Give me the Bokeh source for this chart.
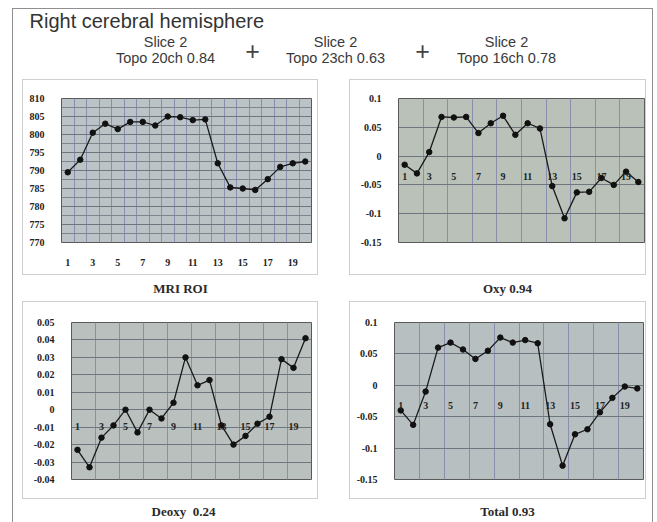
from bokeh.plotting import figure
from bokeh.models import Range1d, FixedTicker, Label
from bokeh.layouts import column, row
from bokeh.embed import file_html
from bokeh.resources import INLINE

# ---------------- data ----------------
x_index = list(range(1, 21))
x_tick_values = [1, 3, 5, 7, 9, 11, 13, 15, 17, 19]

mri_values = [789.5, 793.0, 800.5, 803.0, 801.5, 803.5, 803.5, 802.5, 805.0, 804.8,
              804.0, 804.2, 792.0, 785.3, 785.0, 784.6, 787.6, 791.0, 792.0, 792.5]
oxy_values = [-0.015, -0.030, 0.007, 0.068, 0.067, 0.068, 0.040, 0.057, 0.070, 0.037,
              0.057, 0.048, -0.052, -0.108, -0.063, -0.062, -0.038, -0.050, -0.027, -0.045]
deoxy_values = [-0.023, -0.033, -0.016, -0.009, 0.000, -0.013, 0.000, -0.005, 0.004, 0.030,
                0.014, 0.017, -0.009, -0.020, -0.015, -0.008, -0.004, 0.029, 0.024, 0.041]
total_values = [-0.040, -0.063, -0.010, 0.060, 0.068, 0.057, 0.042, 0.055, 0.076, 0.068,
                0.072, 0.067, -0.062, -0.128, -0.078, -0.070, -0.043, -0.020, -0.002, -0.005]

mri_y_ticks = [770, 775, 780, 785, 790, 795, 800, 805, 810]
mri_y_labels = ["770", "775", "780", "785", "790", "795", "800", "805", "810"]
oxy_y_ticks = [-0.15, -0.1, -0.05, 0, 0.05, 0.1]
oxy_y_labels = ["-0.15", "-0.1", "-0.05", "0", "0.05", "0.1"]
deoxy_y_ticks = [-0.04, -0.03, -0.02, -0.01, 0, 0.01, 0.02, 0.03, 0.04, 0.05]
deoxy_y_labels = ["-0.04", "-0.03", "-0.02", "-0.01", "0", "0.01", "0.02", "0.03", "0.04", "0.05"]
total_y_ticks = [-0.15, -0.1, -0.05, 0, 0.05, 0.1]
total_y_labels = ["-0.15", "-0.1", "-0.05", "0", "0.05", "0.1"]

captions = ["MRI ROI", "Oxy 0.94", "Deoxy\u00a0\u00a00.24", "Total 0.93"]
header_title = "Right cerebral hemisphere"
slice_labels = ["Slice 2", "Slice 2", "Slice 2"]
topo_labels = ["Topo 20ch 0.84", "Topo 23ch 0.63", "Topo 16ch 0.78"]

# ---------------- styling ----------------
TICK_FONT = "Liberation Serif"
LINE_COLOR = "#1a1a1a"


def make_panel(values, yr, yticks, ylabels, minor, grid_step, w, h, borders, bg, fixed_x, standoff):
    l, r, t, b = borders
    p = figure(width=w, height=h, x_range=Range1d(0.5, 20.5), y_range=Range1d(*yr),
               output_backend="svg", toolbar_location=None,
               min_border_left=l, min_border_right=r, min_border_top=t, min_border_bottom=b,
               background_fill_color=bg, border_fill_color="white",
               outline_line_color="#5a5a5a", outline_line_width=1)
    p.line(x_index, values, line_color=LINE_COLOR, line_width=1.3)
    p.scatter(x_index, values, size=5.5, color="#111111")

    # x axis
    p.xaxis.ticker = FixedTicker(ticks=x_tick_values)
    p.xaxis.axis_line_color = None
    p.xaxis.major_tick_line_color = None
    p.xaxis.minor_tick_line_color = None
    p.xaxis.major_label_text_font = TICK_FONT
    p.xaxis.major_label_text_font_style = "bold"
    p.xaxis.major_label_text_font_size = "10px"
    p.xaxis.major_label_text_color = "#222222"
    if fixed_x:
        p.xaxis.fixed_location = 0
    p.xaxis.major_label_standoff = standoff

    # y axis
    p.yaxis.ticker = FixedTicker(ticks=yticks, minor_ticks=minor)
    p.yaxis.major_label_overrides = {v: s for v, s in zip(yticks, ylabels)}
    p.yaxis.axis_line_color = None
    p.yaxis.major_tick_line_color = None
    p.yaxis.minor_tick_line_color = None
    p.yaxis.major_label_text_font = TICK_FONT
    p.yaxis.major_label_text_font_style = "bold"
    p.yaxis.major_label_text_font_size = "10px"
    p.yaxis.major_label_text_color = "#222222"
    p.yaxis.major_label_standoff = 11

    # grids
    n = int(20 / grid_step) + 1
    p.xgrid.ticker = FixedTicker(ticks=[0.5 + i * grid_step for i in range(n)])
    p.xgrid.grid_line_color = "#8b8fae"
    p.xgrid.grid_line_width = 1
    p.ygrid.grid_line_color = "#6e7680"
    p.ygrid.grid_line_width = 1
    if minor:
        p.ygrid.minor_grid_line_color = "#7d858e"
        p.ygrid.minor_grid_line_width = 1
    return p


W_L, W_R = 296, 297
H_T, H_B = 196, 198
BOX = {"border": "1px solid #cfcfcf"}

p_mri = make_panel(mri_values, (770, 810), mri_y_ticks, mri_y_labels,
                   [772.5, 777.5, 782.5, 787.5, 792.5, 797.5, 802.5, 807.5], 1,
                   W_L, H_T, (38, 8, 17, 34), "#bcc3c6", False, 10)
p_oxy = make_panel(oxy_values, (-0.15, 0.1), oxy_y_ticks, oxy_y_labels, [], 2,
                   W_R, H_T, (48, 3, 18, 16), "#b9c1b8", True, 11)
p_deoxy = make_panel(deoxy_values, (-0.04, 0.05), deoxy_y_ticks, deoxy_y_labels, [], 2,
                     W_L, H_B, (48, 8, 17, 21), "#b9c0bd", True, 7)
p_total = make_panel(total_values, (-0.15, 0.1), total_y_ticks, total_y_labels, [], 2,
                     W_R, H_B, (44, 4, 20, 18), "#b8bfc0", True, 11)
for p in (p_mri, p_oxy, p_deoxy, p_total):
    p.styles = BOX


def caption_fig(text, w, h, cx):
    c = figure(width=w, height=h, x_range=Range1d(0, w), y_range=Range1d(h, 0),
               x_axis_location=None, y_axis_location=None, min_border=0,
               output_backend="svg", toolbar_location=None,
               outline_line_color=None, border_fill_color="white", background_fill_color="white")
    c.grid.visible = False
    c.add_layout(Label(x=cx, y=h / 2, text=text, text_align="center", text_baseline="middle",
                       text_font="Liberation Serif", text_font_style="bold",
                       text_font_size="13px", text_color="#2a2a2a"))
    return c


cap_mri = caption_fig(captions[0], W_L, 26, 158)
cap_oxy = caption_fig(captions[1], W_R, 26, 158)
cap_deoxy = caption_fig(captions[2], W_L, 24, 161)
cap_total = caption_fig(captions[3], W_R, 24, 158)

# header
HW, HH = 639, 70
hdr = figure(width=HW, height=HH, x_range=Range1d(0, HW), y_range=Range1d(HH, 0),
             x_axis_location=None, y_axis_location=None, min_border=0,
             output_backend="svg", toolbar_location=None,
             outline_line_color=None, border_fill_color="white", background_fill_color="white")
hdr.grid.visible = False
hdr.add_layout(Label(x=16, y=11, text=header_title, text_align="left", text_baseline="middle",
                     text_font="Liberation Sans", text_font_size="20px", text_color="#333333"))
col_centers = [152, 322, 493]
for cx, s, tp in zip(col_centers, slice_labels, topo_labels):
    hdr.add_layout(Label(x=cx, y=32, text=s, text_align="center", text_baseline="middle",
                         text_font="Liberation Sans", text_font_size="14.5px", text_color="#3a3a3a"))
    hdr.add_layout(Label(x=cx, y=48, text=tp, text_align="center", text_baseline="middle",
                         text_font="Liberation Sans", text_font_size="14.5px", text_color="#3a3a3a"))
for px in (239, 409):
    hdr.add_layout(Label(x=px, y=41, text="+", text_align="center", text_baseline="middle",
                         text_font="Liberation Sans", text_font_size="25px", text_color="#444444"))

layout = column(
    hdr,
    row(p_mri, p_oxy, spacing=31, margin=(0, 0, 0, 9)),
    row(cap_mri, cap_oxy, spacing=31, margin=(0, 0, 0, 9)),
    row(p_deoxy, p_total, spacing=31, margin=(0, 0, 0, 9)),
    row(cap_deoxy, cap_total, spacing=31, margin=(0, 0, 0, 9)),
    spacing=0,
    margin=(8, 0, 0, 12),
    styles={"border": "1px solid #8f8f8f", "background-color": "white"},
)

open("out.html", "w").write(file_html(layout, INLINE))
